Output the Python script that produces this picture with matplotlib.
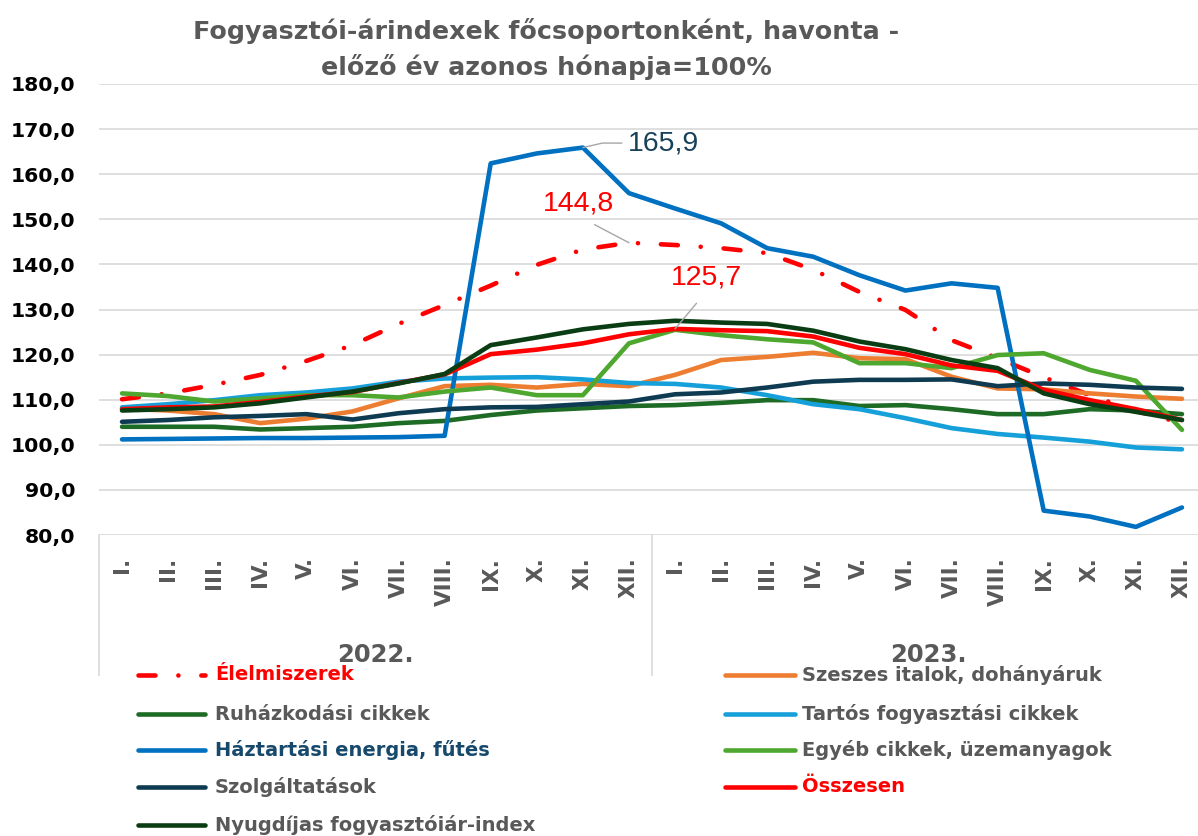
import matplotlib
matplotlib.use("Agg")
import matplotlib.pyplot as plt
from matplotlib.lines import Line2D
from matplotlib.transforms import blended_transform_factory

# ---------------- data ----------------
months = ["I.", "II.", "III.", "IV.", "V.", "VI.", "VII.", "VIII.", "IX.", "X.", "XI.", "XII."]
years = ["2022.", "2023."]

elelmiszerek = [110.1, 111.4, 113.3, 115.5, 118.6, 122.1, 126.8, 131.0, 135.3, 139.9, 143.3, 144.8,
                144.3, 143.6, 142.5, 138.8, 133.9, 129.9, 123.2, 119.2, 115.0, 111.0, 107.5, 104.8]
szeszes = [108.0, 107.6, 106.8, 104.8, 105.8, 107.4, 110.3, 113.0, 113.3, 112.7, 113.5, 113.0,
           115.5, 118.8, 119.5, 120.4, 119.2, 119.0, 115.1, 112.5, 112.3, 111.4, 110.7, 110.2]
ruhazkodasi = [104.0, 104.0, 104.0, 103.4, 103.7, 104.0, 104.8, 105.3, 106.6, 107.6, 108.1, 108.6,
               108.8, 109.3, 109.9, 109.9, 108.6, 108.8, 107.9, 106.8, 106.8, 107.9, 107.6, 106.8]
tartos = [108.3, 109.0, 109.9, 111.0, 111.6, 112.5, 114.0, 114.7, 114.9, 115.0, 114.5, 113.7,
          113.5, 112.7, 111.0, 109.0, 107.9, 105.9, 103.7, 102.4, 101.6, 100.7, 99.4, 99.0]
haztartasi = [101.2, 101.3, 101.4, 101.5, 101.5, 101.6, 101.7, 102.0, 162.4, 164.6, 165.9, 155.8,
              152.4, 149.1, 143.6, 141.7, 137.6, 134.2, 135.8, 134.8, 85.4, 84.1, 81.8, 86.1]
egyeb = [111.4, 110.8, 109.6, 110.3, 111.0, 111.0, 110.5, 111.8, 112.7, 111.0, 111.0, 122.5,
         125.5, 124.3, 123.4, 122.7, 118.1, 118.1, 117.0, 119.9, 120.3, 116.6, 114.2, 103.3]
szolgaltatasok = [105.1, 105.5, 106.1, 106.4, 106.8, 105.6, 107.0, 107.9, 108.3, 108.4, 109.0, 109.6,
                  111.2, 111.6, 112.7, 114.0, 114.4, 114.4, 114.5, 113.0, 113.6, 113.3, 112.7, 112.4]
osszesen = [107.9, 108.3, 108.5, 109.5, 110.7, 111.7, 113.7, 115.6, 120.1, 121.1, 122.5, 124.5,
            125.7, 125.4, 125.2, 124.0, 121.5, 120.1, 117.6, 116.4, 112.2, 109.9, 107.9, 105.5]
nyugdijas = [107.6, 107.9, 108.3, 109.2, 110.5, 111.8, 113.6, 115.7, 122.1, 123.8, 125.6, 126.8,
             127.5, 127.1, 126.8, 125.3, 122.9, 121.2, 118.8, 117.0, 111.4, 109.0, 107.3, 105.5]

series_names = ["Élelmiszerek", "Szeszes italok, dohányáruk", "Ruházkodási cikkek",
                "Tartós fogyasztási cikkek", "Háztartási energia, fűtés",
                "Egyéb cikkek, üzemanyagok", "Szolgáltatások", "Összesen",
                "Nyugdíjas fogyasztóiár-index"]
series_values = [elelmiszerek, szeszes, ruhazkodasi, tartos, haztartasi, egyeb,
                 szolgaltatasok, osszesen, nyugdijas]
series_colors = ["#FF0000", "#ED7D31", "#1D6B25", "#16A0DA", "#0070C0", "#4EA72E",
                 "#0F3B52", "#FF0000", "#0B3D14"]
label_colors = ["#FF0000", "#595959", "#595959", "#595959", "#16496B", "#595959",
                "#595959", "#FF0000", "#595959"]

# ---------------- figure ----------------
W, H = 1198, 836
plt.rcParams["font.family"] = ["DejaVu Sans"]
fig = plt.figure(figsize=(W / 100, H / 100), dpi=100)
fig.patch.set_facecolor("white")
ax = fig.add_axes([99 / W, 1 - 535 / H, 1106 / W, 451 / H])

LW = 3.3
food_dash = (0, (3.7, 5.0, 0.01, 5.0))
xs = list(range(len(months) * len(years)))
for i, (name, vals, col) in enumerate(zip(series_names, series_values, series_colors)):
    if i == 0:
        ax.plot(xs, vals, color=col, lw=LW, linestyle=food_dash,
                dash_capstyle="round", solid_capstyle="round", zorder=3 + i)
    else:
        ax.plot(xs, vals, color=col, lw=LW, solid_capstyle="round",
                solid_joinstyle="round", zorder=3 + i)

ax.set_xlim(-0.5, 23.5)
ax.set_ylim(80, 180)
yt = list(range(80, 181, 10))
ax.set_yticks(yt)
ax.set_yticklabels([f"{v:.1f}".replace(".", ",") for v in yt],
                   fontsize=14.7, fontweight="bold", color="black")
ax.set_xticks(xs)
ax.set_xticklabels(months * len(years), rotation=90, fontsize=15.5,
                   fontweight="bold", color="#595959", va="top", ha="center")
ax.tick_params(axis="y", length=0, pad=17)
ax.tick_params(axis="x", length=0, pad=16)
ax.yaxis.grid(True, color="#D9D9D9", lw=1.2)
ax.set_axisbelow(True)
for s in ax.spines.values():
    s.set_visible(False)

# category group separators and year labels
trans = blended_transform_factory(ax.transData, ax.transAxes)
sep_bottom = -(675 - 535) / 451
for xv in [-0.5, 11.5, 23.5]:
    ax.add_line(Line2D([xv, xv], [0, sep_bottom], transform=trans, clip_on=False,
                       color="#D9D9D9", lw=1.2))
for k, yr in enumerate(years):
    ax.text(5.5 + 12 * k, -(655 - 535) / 451, yr, transform=trans, ha="center",
            va="center", fontsize=17.5, fontweight="bold", color="#595959")

# title
fig.text(546 / W, 1 - 49 / H,
         "Fogyasztói-árindexek főcsoportonként, havonta -\nelőző év azonos hónapja=100%",
         ha="center", va="center", multialignment="center", fontsize=18.3,
         fontweight="bold", color="#595959", linespacing=1.5)

# data labels
lead = dict(arrowstyle="-", color="#A6A6A6", lw=1.0, shrinkA=2, shrinkB=0)
i_max_h = haztartasi.index(max(haztartasi))
ax.annotate(f"{haztartasi[i_max_h]:.1f}".replace(".", ","), xy=(i_max_h, haztartasi[i_max_h]),
            xytext=(11.74, 166.9), ha="center", va="center", fontsize=20.5,
            family="Liberation Sans", color="#17405A", zorder=20,
            arrowprops=dict(lead, relpos=(0, 0.5),
                            connectionstyle="angle,angleA=0,angleB=13,rad=0"))
i_max_f = elelmiszerek.index(max(elelmiszerek))
ax.annotate(f"{elelmiszerek[i_max_f]:.1f}".replace(".", ","), xy=(i_max_f, elelmiszerek[i_max_f]),
            xytext=(9.9, 153.6), ha="center", va="center", fontsize=20.5,
            family="Liberation Sans", color="#FF0000", zorder=20,
            arrowprops=dict(lead, relpos=(0.5, 0), shrinkA=9))
i_max_o = osszesen.index(max(osszesen))
ax.annotate(f"{osszesen[i_max_o]:.1f}".replace(".", ","), xy=(i_max_o, osszesen[i_max_o]),
            xytext=(12.69, 137.0), ha="center", va="center", fontsize=20.5,
            family="Liberation Sans", color="#FF0000", zorder=20,
            arrowprops=dict(lead, relpos=(0.5, 0), shrinkA=9))

# legend (two columns, row-major)
rows_y = [675, 714, 750, 787, 825]
order_left = [0, 2, 4, 6, 8]
order_right = [1, 3, 5, 7]
cols = [(order_left, 138, 205, 215), (order_right, 725, 795, 802)]
for idx_list, hx0, hx1, tx in cols:
    for r, si in enumerate(idx_list):
        yy = 1 - rows_y[r] / H
        ls = food_dash if si == 0 else "-"
        fig.add_artist(Line2D([hx0 / W, hx1 / W], [yy, yy], transform=fig.transFigure,
                              color=series_colors[si], lw=LW, linestyle=ls,
                              dash_capstyle="round", solid_capstyle="round"))
        fig.text(tx / W, yy, series_names[si], ha="left", va="center", fontsize=14,
                 fontweight="bold", color=label_colors[si])

fig.savefig("out.png", dpi=100, facecolor="white")
